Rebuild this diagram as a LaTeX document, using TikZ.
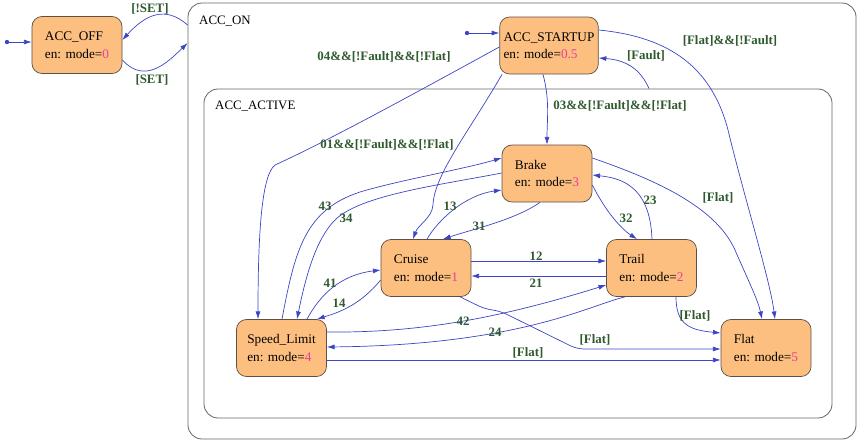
\documentclass[tikz,border=0pt]{standalone}
\usepackage{fontspec}
\setmainfont{Liberation Serif}
\usepackage{xcolor}
\usepackage{tikz}
\usetikzlibrary{arrows.meta}
\definecolor{stfill}{HTML}{FCBF80}
\definecolor{stline}{HTML}{5C5046}
\definecolor{trblue}{HTML}{3C46C4}
\definecolor{lblgreen}{HTML}{2F5A2F}
\definecolor{modenum}{HTML}{E93C9E}
\definecolor{boxgray}{HTML}{666666}
\newcommand{\enmode}[1]{en: mode=\textcolor{modenum}{#1}}
\tikzset{
  ar/.style={-{Latex[length=2.3mm,width=1.5mm]},line width=0.6pt,trblue},
  st/.style={draw=stline,line width=0.6pt,rounded corners=8.5pt,fill=stfill,align=left,
    minimum width=2.7cm,minimum height=1.71cm,font=\fontsize{11.3}{15}\selectfont},
  cont/.style={draw=boxgray,line width=0.7pt,rounded corners=12pt},
  lbl/.style={font=\fontsize{11}{12}\selectfont\bfseries,text=lblgreen,inner sep=1pt},
  ttl/.style={anchor=west,inner sep=0pt,font=\fontsize{11}{12}\selectfont},
  dot/.style={circle,fill=trblue,inner sep=0pt,minimum size=1.3mm}
}

\begin{document}
\begin{tikzpicture}[x=0.03cm,y=-0.03cm]
\useasboundingbox (0,0) rectangle (857,443);
% super states
\node[cont,minimum width=20.04cm,minimum height=13.08cm] (accon) at (522,221) {};
\node[ttl] (acconname) at (199,21) {ACC\_ON};
\node[cont,minimum width=18.84cm,minimum height=9.87cm] (accactive) at (518,253.5) {};
\node[ttl] (accactivename) at (215,106) {ACC\_ACTIVE};
% states
\node[st] (accoff) at (77,45) {ACC\_OFF\\\enmode{0}};
\node[st] (startup) at (549,45.5) {ACC\_STARTUP\\\enmode{0.5}};
\node[st] (brake) at (547,173.5) {Brake\\\enmode{3}};
\node[st] (cruise) at (426,268) {Cruise\\\enmode{1}};
\node[st] (trail) at (651.5,268) {Trail\\\enmode{2}};
\node[st] (speed) at (281.5,348) {Speed\_Limit\\\enmode{4}};
\node[st] (flat) at (766,348) {Flat\\\enmode{5}};
\node[dot] (init0) at (7,42) {};
\node[dot] (init1) at (467,33) {};
% transitions
\draw[ar] (init0) -- (accoff.west |- init0);
\draw[ar] (init1) -- (startup.west |- init1);
\draw[ar] (accon.west |- 0,25) .. controls (165,5) and (145,15) .. (accoff.east |- 0,40);
\draw[ar] (accoff.east |- 0,60) .. controls (145,85) and (168,62) .. (accon.west |- 0,43);
\draw[ar] (startup.west |- 0,47) .. controls (430,85) and (330,140) .. (275,165)
  .. controls (262,175) and (258,230) .. (speed.north -| 258,0);
\draw[ar] (startup.south -| 502,0) .. controls (470,130) and (434,175) .. (433,205)
  .. controls (432,218) and (418,225) .. (cruise.north -| 413,0);
\draw[ar] (startup.south -| 543,0) .. controls (550,100) and (547,120) .. (brake.north -| 547,0);
\draw[ar] (accactive.north -| 649,0) .. controls (640,68) and (625,60) .. (startup.east |- 0,58);
\draw[ar] (startup.east |- 0,30) .. controls (660,36) and (710,60) .. (728,130)
  .. controls (745,200) and (770,280) .. (flat.north -| 775,0);
\draw[ar] (brake.east |- 0,158) .. controls (650,178) and (715,205) .. (735,250)
  .. controls (748,280) and (758,300) .. (flat.north -| 762,0);
\draw[ar] (brake.east |- 0,185) .. controls (605,210) and (620,228) .. (trail.north -| 637,0);
\draw[ar] (trail.north -| 652,0) .. controls (650,185) and (620,178) .. (brake.east |- 0,175);
\draw[ar] (brake.south -| 540,0) .. controls (515,220) and (470,230) .. (cruise.north -| 443,0);
\draw[ar] (cruise.north -| 427,0) .. controls (438,220) and (465,195) .. (brake.west |- 0,190);
\draw[ar] (speed.north -| 282,0) .. controls (295,250) and (305,210) .. (360,192)
  .. controls (400,180) and (460,170) .. (brake.west |- 0,158);
\draw[ar] (brake.west |- 0,173) .. controls (440,185) and (360,195) .. (335,220)
  .. controls (315,240) and (305,280) .. (speed.north -| 297,0);
\draw[ar] (speed.north -| 307,0) .. controls (320,295) and (340,275) .. (cruise.west |- 0,270);
\draw[ar] (cruise.west |- 0,280) .. controls (360,305) and (340,312) .. (speed.north -| 317,0);
\draw[ar] (cruise.east |- 0,261) -- (trail.west |- 0,261);
\draw[ar] (trail.west |- 0,276) -- (cruise.east |- 0,276);
\draw[ar] (speed.east |- 0,332) .. controls (420,333) and (500,318) .. (trail.west |- 0,285);
\draw[ar] (trail.south -| 625,0) .. controls (590,305) and (520,345) .. (speed.east |- 0,347);
\draw[ar] (speed.east |- 0,360) -- (flat.west |- 0,360);
\draw[ar,rounded corners=6pt] (cruise.south -| 460,0) -- (485,309) -- (500,311) -- (577,349) -- (flat.west |- 0,349);
\draw[ar] (trail.south -| 676,0) .. controls (676,325) and (690,330) .. (flat.west |- 0,333);
% guards
\node[lbl] (gnset) at (150,9) {[!SET]};
\node[lbl] (gset) at (152,80) {[SET]};
\node[lbl] (g04) at (384,57) {04\&\&[!Fault]\&\&[!Flat]};
\node[lbl] (g01) at (387,145) {01\&\&[!Fault]\&\&[!Flat]};
\node[lbl] (g03) at (620,106) {03\&\&[!Fault]\&\&[!Flat]};
\node[lbl] (gfault) at (646,56) {[Fault]};
\node[lbl] (gflatnf) at (730,41) {[Flat]\&\&[!Fault]};
\node[lbl] (gbf) at (718,198) {[Flat]};
\node[lbl] (g32) at (626,218) {32};
\node[lbl] (g23) at (650,200) {23};
\node[lbl] (g31) at (479,226) {31};
\node[lbl] (g13) at (450,206) {13};
\node[lbl] (g43) at (325,206) {43};
\node[lbl] (g34) at (346,218) {34};
\node[lbl] (g41) at (330,283) {41};
\node[lbl] (g14) at (339,303) {14};
\node[lbl] (g12) at (536,256) {12};
\node[lbl] (g21) at (536,283) {21};
\node[lbl] (g42) at (463,321) {42};
\node[lbl] (g24) at (495,332) {24};
\node[lbl] (gsf) at (528,353) {[Flat]};
\node[lbl] (gcf) at (595,340) {[Flat]};
\node[lbl] (gtf) at (695,316) {[Flat]};
\end{tikzpicture}
\end{document}
